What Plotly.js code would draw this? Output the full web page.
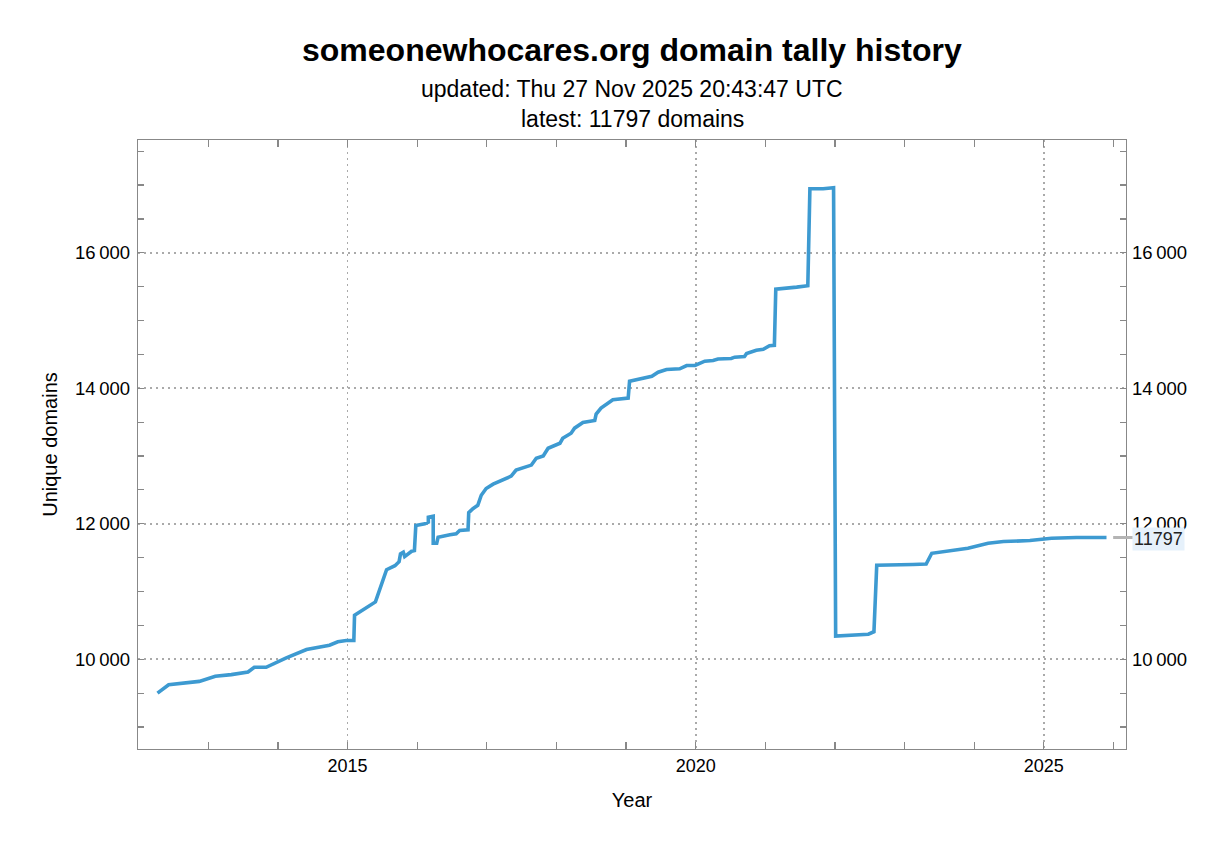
<!DOCTYPE html>
<html>
<head>
<meta charset="utf-8">
<script src="https://cdn.plot.ly/plotly-3.0.1.min.js"></script>
<style>html,body{margin:0;padding:0;background:#fff;}#chart{width:1232px;height:855px;}</style>
</head>
<body>
<div id="chart"></div>
<script>
// decimal year of each sample
const years = [
  2012.27, 2012.43, 2012.87, 2012.99, 2013.10, 2013.33, 2013.57, 2013.66, 2013.83, 2014.12,
  2014.41, 2014.74, 2014.86, 2014.98, 2015.09, 2015.10, 2015.27, 2015.40, 2015.56, 2015.68,
  2015.74, 2015.76, 2015.80, 2015.82, 2015.92, 2015.96, 2015.98, 2016.11, 2016.16, 2016.16,
  2016.23, 2016.23, 2016.28, 2016.30, 2016.47, 2016.56, 2016.61, 2016.73, 2016.74, 2016.80,
  2016.87, 2016.92, 2016.99, 2017.09, 2017.35, 2017.42, 2017.64, 2017.71, 2017.81, 2017.88,
  2018.05, 2018.09, 2018.21, 2018.26, 2018.38, 2018.55, 2018.57, 2018.64, 2018.81, 2019.03,
  2019.05, 2019.20, 2019.37, 2019.46, 2019.58, 2019.77, 2019.87, 2019.99, 2020.13, 2020.25,
  2020.32, 2020.51, 2020.56, 2020.70, 2020.73, 2020.87, 2020.97, 2021.06, 2021.13, 2021.15,
  2021.30, 2021.45, 2021.61, 2021.64, 2021.83, 2021.98, 2022.01, 2022.19, 2022.48, 2022.56,
  2022.60, 2023.12, 2023.31, 2023.39, 2023.65, 2023.91, 2024.20, 2024.42, 2024.80, 2025.11,
  2025.47, 2025.90
];
// unique domain count at each sample
const domains = [
  9500, 9624, 9673, 9708, 9748, 9773, 9812, 9881, 9881, 10020,
  10144, 10208, 10257, 10277, 10277, 10649, 10762, 10846, 11322, 11381,
  11440, 11555, 11579, 11515, 11594, 11604, 11975, 12000, 12024, 12098,
  12113, 11712, 11712, 11801, 11837, 11852, 11900, 11911, 12165, 12223,
  12272, 12421, 12520, 12584, 12703, 12792, 12866, 12966, 13000, 13114,
  13188, 13262, 13337, 13411, 13495, 13524, 13619, 13708, 13831, 13856,
  14103, 14143, 14177, 14237, 14277, 14287, 14336, 14336, 14400, 14410,
  14433, 14440, 14459, 14470, 14512, 14560, 14575, 14628, 14635, 15462,
  15472, 15493, 15514, 16945, 16945, 16960, 10343, 10354, 10370, 10406,
  11388, 11398, 11406, 11564, 11604, 11638, 11712, 11737, 11752, 11786,
  11797, 11797
];
const mainTitle = "someonewhocares.org domain tally history";
const updatedText = "updated: Thu 27 Nov 2025 20:43:47 UTC";
const latestValue = domains[domains.length - 1];
const latestText = "latest: " + latestValue + " domains";
const xTickVals = [2015, 2020, 2025];
const xTickText = ["2015", "2020", "2025"];
const yTickVals = [10000, 12000, 14000, 16000];

const FONT = "Liberation Sans, Arial, sans-serif";
const yRange = [8675, 17665];
const GRIDDASH = "2px,4px";

const trace = {
  x: years, y: domains, type: "scatter", mode: "lines",
  line: {color: "#3d9ad1", width: 3.6},
  hoverinfo: "x+y", showlegend: false
};

const layout = {
  width: 1232, height: 855,
  margin: {l: 138, r: 106, t: 140, b: 106},
  paper_bgcolor: "#fff", plot_bgcolor: "#fff",
  font: {family: FONT, size: 18, color: "#000"},
  separators: ".\u2009",
  showlegend: false,
  xaxis: {
    range: [2011.99, 2026.18], showline: true, linecolor: "#888", linewidth: 1.2, mirror: "allticks",
    ticks: "inside", ticklen: 7, tickcolor: "#888", tickwidth: 1.2,
    tickvals: xTickVals, ticktext: xTickText,
    showgrid: true, gridcolor: "#aaaaaa", gridwidth: 1.6, griddash: GRIDDASH,
    minor: {dtick: 1, tick0: 2015, ticks: "inside", ticklen: 7, tickcolor: "#888", tickwidth: 1.2, showgrid: false},
    zeroline: false, tickfont: {size: 18, family: FONT, color: "#000"},
    title: {text: "Year", font: {size: 20, family: FONT}, standoff: 18}
  },
  yaxis: {
    range: yRange, showline: true, linecolor: "#888", linewidth: 1.2, mirror: "allticks",
    ticks: "inside", ticklen: 6, tickcolor: "#888", tickwidth: 1.2,
    tickvals: yTickVals, tickformat: ",d", ticklabelstandoff: 3,
    showgrid: true, gridcolor: "#aaaaaa", gridwidth: 1.6, griddash: GRIDDASH,
    minor: {dtick: 500, tick0: 0, ticks: "inside", ticklen: 6, tickcolor: "#888", tickwidth: 1.2, showgrid: false},
    zeroline: false, tickfont: {size: 18.5, family: FONT, color: "#000"},
    title: {text: "Unique domains", font: {size: 20, family: FONT}, standoff: 12}
  },
  yaxis2: {
    range: yRange, overlaying: "y", side: "right", anchor: "x",
    tickvals: yTickVals, tickformat: ",d", ticks: "", ticklabelstandoff: 5,
    showline: false, showgrid: false, zeroline: false,
    tickfont: {size: 18.5, family: FONT, color: "#000"}
  },
  shapes: [{
    type: "line", xref: "paper", yref: "y", x0: 0.987, x1: 1.007, y0: latestValue, y1: latestValue,
    line: {color: "#b4b4b4", width: 3}
  }],
  annotations: [
    {text: "<b>" + mainTitle + "</b>", xref: "paper", yref: "paper", x: 0.5, y: 1, yshift: 90, xanchor: "center", yanchor: "middle", showarrow: false, font: {size: 32, family: FONT, color: "#000"}},
    {text: updatedText, xref: "paper", yref: "paper", x: 0.5, y: 1, yshift: 51, xanchor: "center", yanchor: "middle", showarrow: false, font: {size: 23, family: FONT, color: "#000"}},
    {text: latestText, xref: "paper", yref: "paper", x: 0.5, y: 1, yshift: 21, xanchor: "center", yanchor: "middle", showarrow: false, font: {size: 23, family: FONT, color: "#000"}},
    {text: String(latestValue), xref: "paper", yref: "y", x: 1.006, y: latestValue, xanchor: "left", yanchor: "middle", yshift: -1, showarrow: false, bgcolor: "#e6f1fb", borderpad: 1, font: {size: 18, family: FONT, color: "#222"}}
  ]
};

const trace2 = {x: [years[0]], y: [domains[0]], yaxis: "y2", type: "scatter", mode: "lines", hoverinfo: "skip", showlegend: false, line: {width: 0}};

Plotly.newPlot("chart", [trace, trace2], layout, {displayModeBar: false, staticPlot: true});
</script>
</body>
</html>
